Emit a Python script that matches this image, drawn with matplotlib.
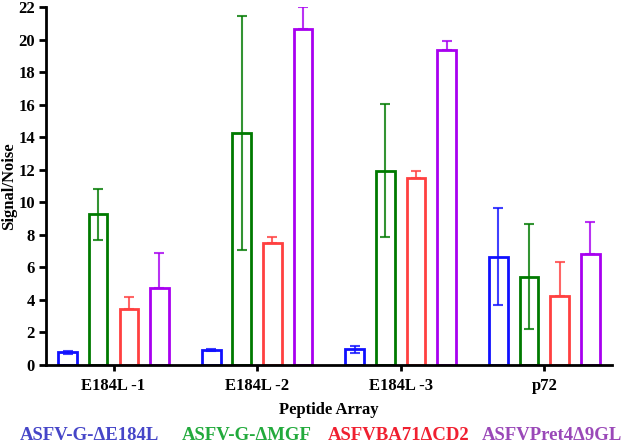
import numpy as np
import matplotlib
matplotlib.use("Agg")
import matplotlib.pyplot as plt

plt.rcParams['font.family'] = ['Liberation Serif', 'DejaVu Serif']
plt.rcParams['font.weight'] = 'bold'

labels = ["E184L -1", "E184L -2", "E184L -3", "p72"]
names = ["ASFV-G-\u0394E184L", "ASFV-G-\u0394MGF", "ASFVBA71\u0394CD2", "ASFVPret4\u03949GL"]

blue = [0.78, 0.92, 0.96, 6.66]
blue_err = [0.08, 0.04, 0.23, 3.0]
green = [9.28, 14.24, 11.94, 5.43]
green_err = [1.57, 7.2, 4.08, 3.24]
red = [3.44, 7.48, 11.47, 4.26]
red_err = [0.76, 0.41, 0.45, 2.07]
purple = [4.75, 20.65, 19.36, 6.80]
purple_err = [2.11, 1.37, 0.55, 2.01]

series = [blue, green, red, purple]
errors = [blue_err, green_err, red_err, purple_err]
two_sided = [True, True, False, False]
bar_colors = ["#1010ff", "#007a00", "#ff4040", "#a800f0"]
text_colors = ["#4646c8", "#22aa3c", "#f02030", "#9a48b8"]

fig = plt.figure(figsize=(6.25, 4.43), dpi=100)
ax = fig.add_axes([0.0736, 0.176, 0.9054, 0.808])

x = np.arange(len(labels))
offsets = [-0.32, -0.107, 0.107, 0.32]
width = 0.13

for vals, err, both, col, off in zip(series, errors, two_sided, bar_colors, offsets):
    vals = np.array(vals)
    err = np.array(err)
    lower = err if both else np.zeros_like(err)
    ax.bar(x + off, vals, width=width, facecolor="white", edgecolor=col,
           linewidth=2.0, zorder=2)
    ax.errorbar(x + off, vals, yerr=[lower, err], fmt="none", ecolor=col,
                elinewidth=1.5, capsize=3.5, capthick=1.5, alpha=0.8, zorder=3)

ax.set_xlim(-0.47, 3.47)
ax.set_ylim(0, 22)
ax.set_yticks(np.arange(0, 23, 2))
ax.set_xticks(x)
ax.set_xticklabels(labels, fontsize=12, fontweight="bold")
ax.tick_params(axis="y", labelsize=12, width=2, length=5, pad=3)
ax.tick_params(axis="x", width=2, length=4, pad=5)
for lab in ax.get_yticklabels():
    lab.set_fontweight("bold")
for s in ["top", "right"]:
    ax.spines[s].set_visible(False)
for s in ["left", "bottom"]:
    ax.spines[s].set_linewidth(2)

ax.set_ylabel("Signal/Noise", fontsize=12, fontweight="bold", labelpad=1)
ax.set_xlabel("Peptide Array", fontsize=12, fontweight="bold", labelpad=6)

legend_x = [0.032, 0.291, 0.525, 0.771]
for name, col, lx in zip(names, text_colors, legend_x):
    fig.text(lx, 0.006, name, color=col, fontsize=13.5, fontweight="bold",
             ha="left", va="baseline")

fig.savefig("out.png", dpi=100)
